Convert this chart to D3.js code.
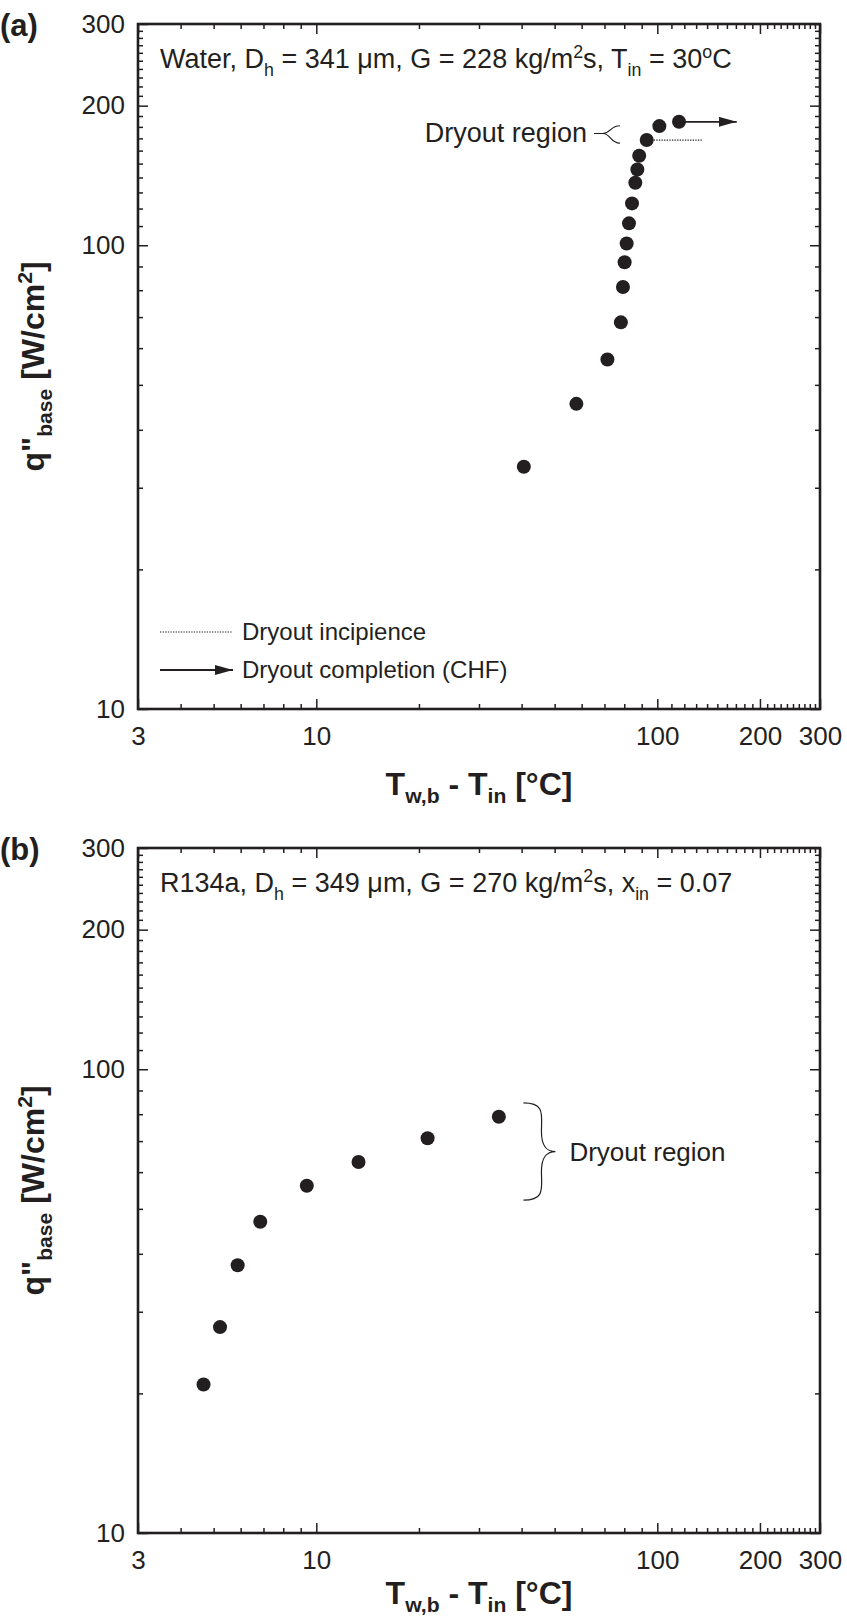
<!DOCTYPE html>
<html>
<head>
<meta charset="utf-8">
<script src="https://cdn.jsdelivr.net/npm/d3@7"></script>
<style>
  body { margin: 0; background: #fff; }
  svg { display: block; }
</style>
</head>
<body>
<div id="chart-container"></div>
<script>
// =====================
// Data
// =====================
// (a) water
const T_A = [40.6, 57.9, 71.4, 78.2, 79.3, 80.2, 81.3, 82.6, 84.3, 86.2, 87.4, 88.5, 93.1, 101.4, 115.8];
const Q_A = [33.3, 45.5, 56.7, 68.2, 81.3, 91.9, 100.9, 111.5, 123.1, 136.4, 145.7, 156.0, 168.6, 180.7, 184.6];
// (b) R134a
const T_B = [4.67, 5.22, 5.88, 6.85, 9.38, 13.3, 21.2, 34.3];
const Q_B = [20.9, 27.8, 37.8, 46.9, 56.1, 63.1, 71.0, 79.0];

// annotation anchors (data units)
const CHF_ARROW_A = { t0: 115.8, t1: 171, q: 184.6 };
const INCIP_LINE_A = { t0: 93.1, t1: 135, q: 168.6 };
const BRACE_A = { t: 77.7, qTop: 181, qBot: 166 };
const BRACE_B = { t: 40.5, qTop: 84.6, qBot: 52.2 };

// tick labels
const X_TICKS = [3, 10, 100, 200, 300];
const Y_TICKS = [10, 100, 200, 300];
const X_MINOR = [4, 5, 6, 7, 8, 9, 20, 30, 40, 50, 60, 70, 80, 90,
  110, 120, 130, 140, 150, 160, 170, 180, 190, 210, 220, 230, 240, 250, 260, 270, 280, 290];
const Y_MINOR = [20, 30, 40, 50, 60, 70, 80, 90,
  110, 120, 130, 140, 150, 160, 170, 180, 190, 210, 220, 230, 240, 250, 260, 270, 280, 290];

// =====================
// Layout
// =====================
const svgWidth = 847;
const svgHeight = 1620;
const FONT = "'Liberation Sans', Arial, Helvetica, sans-serif";
const INK = "#231f20";

const plotLeft = 138;
const plotW = 682;
const plotH = 685;

const svg = d3.select("#chart-container").append("svg")
  .attr("width", svgWidth)
  .attr("height", svgHeight)
  .style("font-family", FONT);

const defs = svg.append("defs");
defs.append("marker")
  .attr("id", "arrowhead")
  .attr("viewBox", "0 0 18 10")
  .attr("refX", 18).attr("refY", 5)
  .attr("markerWidth", 18).attr("markerHeight", 10)
  .attr("markerUnits", "userSpaceOnUse")
  .attr("orient", "auto")
  .append("path")
  .attr("d", "M0,0 L18,5 L0,10 Z")
  .attr("fill", INK);

// text with sub/superscripts
function richText(sel, parts, size, subShift = 0.3) {
  let shift = 0;
  parts.forEach(p => {
    const s = p.sub ? size * subShift : p.sup ? -size * 0.38 : 0;
    sel.append("tspan")
      .attr("dy", s - shift)
      .attr("font-size", (p.sub || p.sup) ? size * 0.66 : size)
      .text(p.t);
    shift = s;
  });
}

const panels = [
  {
    tag: "(a)", top: 24, T: T_A, Q: Q_A, xLabelGap: 86,
    title: [{ t: "Water, D" }, { t: "h", sub: true }, { t: " = 341 \u03bcm, G = 228 kg/m" }, { t: "2", sup: true },
      { t: "s, T" }, { t: "in", sub: true }, { t: " = 30" }, { t: "o", sup: true }, { t: "C" }]
  },
  {
    tag: "(b)", top: 848, T: T_B, Q: Q_B, xLabelGap: 71,
    title: [{ t: "R134a, D" }, { t: "h", sub: true }, { t: " = 349 \u03bcm, G = 270 kg/m" }, { t: "2", sup: true },
      { t: "s, x" }, { t: "in", sub: true }, { t: " = 0.07" }]
  }
];

panels.forEach((p, idx) => {
  const g = svg.append("g").attr("transform", `translate(${plotLeft},${p.top})`);

  const x = d3.scaleLog().domain([3, 300]).range([0, plotW]);
  const y = d3.scaleLog().domain([10, 300]).range([plotH, 0]);

  // ticks: inward on all four sides
  const axes = [
    [d3.axisBottom(x), `translate(0,${plotH})`, X_TICKS, X_MINOR, true],
    [d3.axisTop(x), null, X_TICKS, X_MINOR, false],
    [d3.axisLeft(y), null, Y_TICKS, Y_MINOR, true],
    [d3.axisRight(y), `translate(${plotW},0)`, Y_TICKS, Y_MINOR, false]
  ];
  axes.forEach(([ax, tr, major, minor, labels]) => {
    const isX = major === X_TICKS;
    const gMaj = g.append("g").call(ax.tickValues(major)
      .tickSizeInner(-10).tickSizeOuter(0)
      .tickPadding(isX ? 18 : 13)
      .tickFormat(labels ? d3.format("d") : ""));
    const gMin = g.append("g").call(ax.tickValues(minor)
      .tickSizeInner(-5).tickSizeOuter(0).tickFormat(""));
    [gMaj, gMin].forEach(a => {
      if (tr) a.attr("transform", tr);
      a.select(".domain").remove();
      a.selectAll("line").attr("stroke", INK).attr("stroke-width", 1.5);
    });
    gMaj.selectAll("text")
      .attr("font-family", FONT)
      .attr("font-size", 26)
      .attr("fill", INK);
  });

  g.append("rect")
    .attr("width", plotW).attr("height", plotH)
    .attr("fill", "none").attr("stroke", INK).attr("stroke-width", 2.6);

  // panel tag
  svg.append("text")
    .attr("x", 0).attr("y", p.top + 12)
    .attr("font-size", 31).attr("font-weight", 700).attr("fill", INK)
    .text(p.tag);

  // title
  const title = g.append("text")
    .attr("x", 22).attr("y", 44)
    .attr("fill", INK);
  richText(title, p.title, 27);

  // axis labels
  const xl = g.append("text")
    .attr("x", plotW / 2).attr("y", plotH + p.xLabelGap)
    .attr("text-anchor", "middle").attr("font-weight", 700).attr("fill", INK);
  richText(xl, [{ t: "T" }, { t: "w,b", sub: true }, { t: " - T" }, { t: "in", sub: true }, { t: " [\u00b0C]" }], 32, 0.26);

  const yl = svg.append("text")
    .attr("transform", "rotate(-90)")
    .attr("x", -(p.top + plotH / 2)).attr("y", 44)
    .attr("text-anchor", "middle").attr("font-weight", 700).attr("fill", INK);
  richText(yl, [{ t: "q\"" }, { t: "base", sub: true }, { t: " [W/cm" }, { t: "2", sup: true }, { t: "]" }], 32, 0.26);

  // points
  const pts = p.T.map((t, i) => ({ t, q: p.Q[i] }));
  g.selectAll("circle.pt")
    .data(pts)
    .join("circle")
    .attr("class", "pt")
    .attr("cx", d => x(d.t))
    .attr("cy", d => y(d.q))
    .attr("r", 7)
    .attr("fill", INK);

  if (idx === 0) {
    // dryout incipience (dotted) and CHF (arrow)
    g.append("line")
      .attr("x1", x(INCIP_LINE_A.t0) + 7).attr("x2", x(INCIP_LINE_A.t1))
      .attr("y1", y(INCIP_LINE_A.q)).attr("y2", y(INCIP_LINE_A.q))
      .attr("stroke", INK).attr("stroke-width", 1.2).attr("stroke-dasharray", "1.3,1.3");
    g.append("line")
      .attr("x1", x(CHF_ARROW_A.t0)).attr("x2", x(CHF_ARROW_A.t1))
      .attr("y1", y(CHF_ARROW_A.q)).attr("y2", y(CHF_ARROW_A.q))
      .attr("stroke", INK).attr("stroke-width", 1.8)
      .attr("marker-end", "url(#arrowhead)");

    // left-facing brace
    const bx = x(BRACE_A.t), y0 = y(BRACE_A.qTop), y1 = y(BRACE_A.qBot);
    const ym = (y0 + y1) / 2 - 1;
    g.append("path")
      .attr("d", `M${bx},${y0} C${bx - 10},${y0} ${bx - 9},${ym} ${bx - 17},${ym}
                  C${bx - 9},${ym} ${bx - 10},${y1} ${bx},${y1} M${bx - 17},${ym} L${bx - 26},${ym}`)
      .attr("fill", "none").attr("stroke", INK).attr("stroke-width", 1.2);
    g.append("text")
      .attr("x", bx - 33).attr("y", ym + 9)
      .attr("text-anchor", "end").attr("font-size", 27).attr("fill", INK)
      .text("Dryout region");

    // legend
    const lg = g.append("g").attr("transform", `translate(22,${plotH - 77})`);
    lg.append("line")
      .attr("x1", 0).attr("x2", 72).attr("y1", 0).attr("y2", 0)
      .attr("stroke", INK).attr("stroke-width", 1.2).attr("stroke-dasharray", "1.3,1.3");
    lg.append("text").attr("x", 82).attr("y", 8).attr("font-size", 24).attr("fill", INK)
      .text("Dryout incipience");
    lg.append("line")
      .attr("x1", 0).attr("x2", 73).attr("y1", 38).attr("y2", 38)
      .attr("stroke", INK).attr("stroke-width", 1.8)
      .attr("marker-end", "url(#arrowhead)");
    lg.append("text").attr("x", 82).attr("y", 46).attr("font-size", 24).attr("fill", INK)
      .text("Dryout completion (CHF)");
  } else {
    // right-facing brace
    const bx = x(BRACE_B.t), y0 = y(BRACE_B.qTop), y1 = y(BRACE_B.qBot);
    const ym = (y0 + y1) / 2;
    g.append("path")
      .attr("d", `M${bx},${y0} C${bx + 22},${y0} ${bx + 18},${y0 + 12} ${bx + 18},${ym - 20}
                  C${bx + 18},${ym - 4} ${bx + 24},${ym} ${bx + 32},${ym}
                  C${bx + 24},${ym} ${bx + 18},${ym + 4} ${bx + 18},${ym + 20}
                  C${bx + 18},${y1 - 12} ${bx + 22},${y1} ${bx},${y1}`)
      .attr("fill", "none").attr("stroke", INK).attr("stroke-width", 1.2);
    g.append("text")
      .attr("x", bx + 46).attr("y", ym + 9)
      .attr("font-size", 26).attr("fill", INK)
      .text("Dryout region");
  }
});
</script>
</body>
</html>
